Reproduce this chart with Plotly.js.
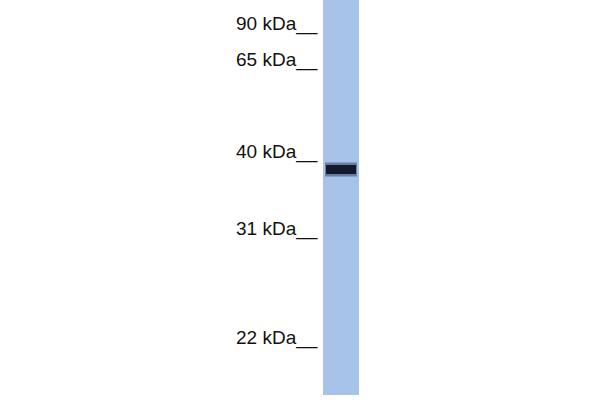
<!DOCTYPE html>
<html>
<head>
<meta charset="utf-8">
<script src="https://cdn.plot.ly/plotly-3.0.1.min.js"></script>
<style>
  html, body { margin: 0; padding: 0; background: #fff; }
  #blot { width: 600px; height: 400px; }
</style>
</head>
<body>
<div id="blot"></div>
<script>
// ladder: size and migration (px from top of the gel)
const marker_kda = [90, 65, 40, 31, 22]
const marker_pos = [24, 60, 152, 229, 338]

// sample lane
const lane_x = [341]
const lane_len = [395]

// detected band
const band_kda = [37]
const band_pos = [169.5]
const band_thick = [9]

const marker_labels = marker_kda.map(k => k + " kDa__")

const data = [
    // lane
    { type: 'bar', x: lane_x, y: lane_len, base: [0], width: 36,
      marker: { color: '#a8c3ea', line: { width: 0 } }, hoverinfo: 'skip' },
    // band halo
    { type: 'bar', x: lane_x, y: band_thick.map(t => t + 5), base: band_pos.map((p, i) => p - (band_thick[i] + 5) / 2),
      width: 32, marker: { color: '#2c3a5e', opacity: 0.5, line: { width: 0 } }, hoverinfo: 'skip' },
    // band core
    { type: 'bar', x: lane_x, y: band_thick, base: band_pos.map((p, i) => p - band_thick[i] / 2),
      width: 30, marker: { color: '#131a2b', line: { width: 0 } },
      hovertemplate: "<extra></extra>" + band_kda[0] + " kDa" },
]

const layout = {
    width: 600, height: 400,
    margin: { l: 0, r: 0, t: 0, b: 0 },
    paper_bgcolor: '#fff', plot_bgcolor: '#fff',
    showlegend: false,
    barmode: 'overlay',
    xaxis: { range: [0, 600], visible: false, fixedrange: true },
    yaxis: { range: [400, 0], visible: false, fixedrange: true },
    annotations: marker_labels.map((t, i) => ({
        x: 320, y: marker_pos[i], xref: 'x', yref: 'y',
        text: t, showarrow: false, xanchor: 'right', yanchor: 'middle',
        font: { family: 'Liberation Sans, Arial, sans-serif', size: 19, color: '#111' }
    })),
}

Plotly.newPlot("blot", data, layout, { displayModeBar: false, staticPlot: true })
</script>
</body>
</html>
